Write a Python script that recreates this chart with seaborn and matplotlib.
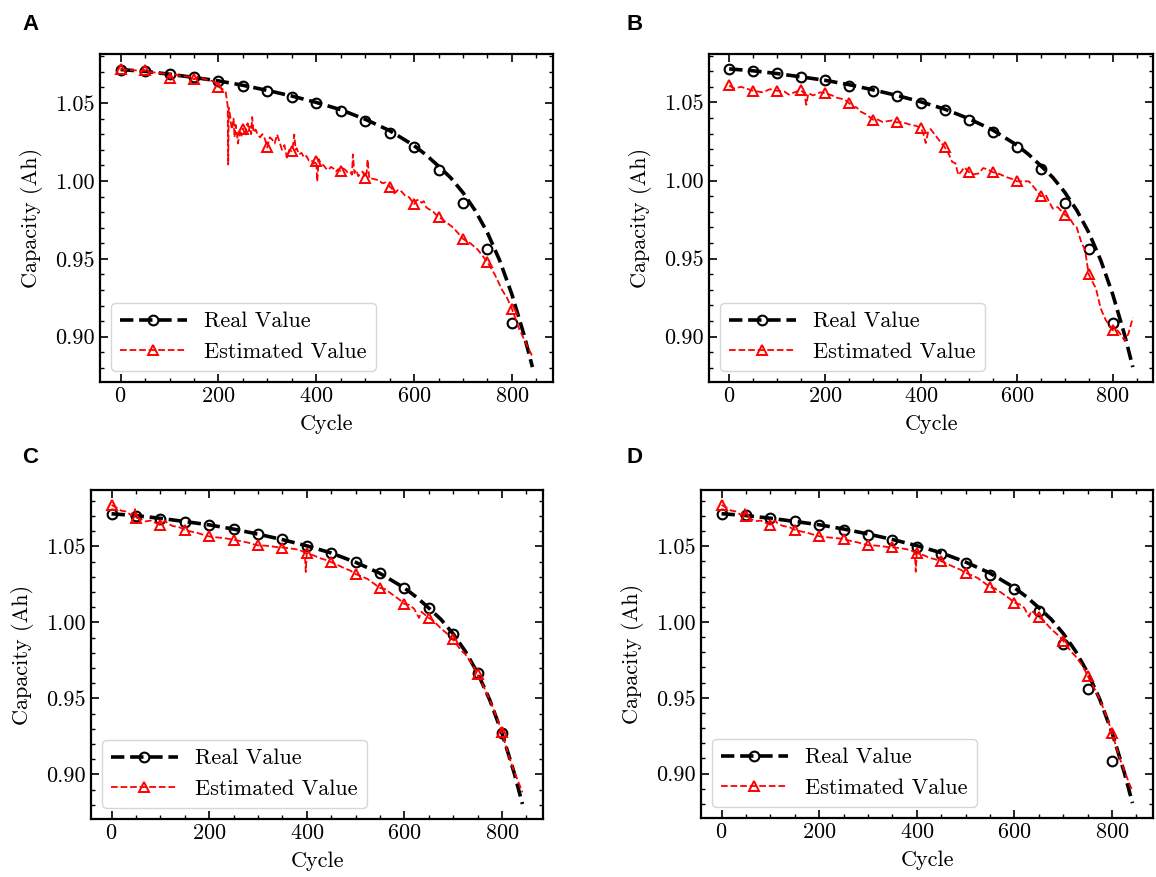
# capacity_estimation.py
# Real vs estimated battery capacity over cycles, four panels (A-D)

import numpy as np
import pandas as pd
import seaborn as sns
import matplotlib.pyplot as plt
from matplotlib.lines import Line2D
from matplotlib.ticker import AutoMinorLocator

# -----------------------------
# Data
# -----------------------------
# smooth real-capacity curve, same in every panel
real_cycle = [0, 50, 100, 150, 200, 250, 300, 350, 400, 450, 500, 550, 600, 625,
              650, 675, 700, 725, 750, 775, 800, 825, 842]
real_cap = [1.0715, 1.0703, 1.0685, 1.0664, 1.0642, 1.0614, 1.0581, 1.0545, 1.0504,
            1.0457, 1.0396, 1.0323, 1.0227, 1.0166, 1.0095, 1.0020, 0.9925, 0.9810,
            0.9668, 0.9490, 0.9272, 0.9010, 0.8805]

# sampled real values (circle markers)
mark_cycle = [0, 50, 100, 150, 200, 250, 300, 350, 400, 450, 500, 550, 600, 650, 700, 750, 800]
mark_real_abd = [1.0712, 1.0704, 1.0687, 1.0665, 1.0643, 1.0607, 1.0576, 1.0540, 1.0498,
                 1.0449, 1.0387, 1.0309, 1.0217, 1.0073, 0.9858, 0.9560, 0.9086]
mark_real_c = [1.0713, 1.0699, 1.0683, 1.0664, 1.0642, 1.0615, 1.0582, 1.0547, 1.0506,
               1.0460, 1.0397, 1.0325, 1.0227, 1.0095, 0.9925, 0.9668, 0.9270]

# estimated capacity, panel A
est_a_cycle = [0, 10, 25, 40, 50, 60, 75, 90, 100, 110, 125, 140, 150, 160, 175, 190,
               200, 208, 215, 219, 220, 221, 224, 226, 228, 231, 233, 235, 238, 240,
               244, 247, 250, 253, 255, 258, 260, 262, 264, 267, 269, 272, 276, 280,
               285, 290, 295, 300, 305, 310, 315, 320, 325, 330, 335, 340, 345, 350,
               353, 355, 358, 360, 365, 370, 375, 380, 385, 390, 395, 400, 402, 405,
               410, 415, 420, 425, 430, 435, 440, 445, 450, 455, 460, 465, 470, 473,
               475, 478, 482, 486, 490, 495, 500, 503, 505, 508, 510, 515, 520, 528,
               535, 542, 550, 555, 560, 568, 575, 582, 590, 600, 605, 610, 615, 620,
               625, 630, 640, 650, 658, 665, 672, 680, 690, 700, 715, 730, 740, 750,
               765, 780, 790, 800, 815, 830, 841]
est_a_cap = [1.0719, 1.0715, 1.0712, 1.0705, 1.0709, 1.0698, 1.0695, 1.0688, 1.0660,
             1.0685, 1.0672, 1.0670, 1.0652, 1.0668, 1.0650, 1.0640, 1.0606, 1.0590,
             1.0570, 1.0480, 1.0106, 1.0470, 1.0420, 1.0360, 1.0330, 1.0400, 1.0280,
             1.0360, 1.0300, 1.0240, 1.0330, 1.0290, 1.0336, 1.0310, 1.0290, 1.0360,
             1.0370, 1.0320, 1.0350, 1.0300, 1.0410, 1.0310, 1.0330, 1.0300, 1.0280,
             1.0300, 1.0270, 1.0215, 1.0280, 1.0265, 1.0240, 1.0298, 1.0250, 1.0200,
             1.0230, 1.0150, 1.0200, 1.0190, 1.0240, 1.0298, 1.0200, 1.0210, 1.0170,
             1.0180, 1.0150, 1.0160, 1.0130, 1.0135, 1.0110, 1.0128, 0.9996, 1.0140,
             1.0110, 1.0100, 1.0080, 1.0070, 1.0090, 1.0080, 1.0060, 1.0075, 1.0064,
             1.0080, 1.0070, 1.0050, 1.0055, 1.0040, 1.0170, 1.0050, 1.0070, 1.0030,
             1.0045, 1.0060, 1.0021, 1.0050, 1.0138, 1.0030, 1.0010, 1.0015, 1.0010,
             1.0005, 0.9985, 0.9990, 0.9964, 0.9950, 0.9920, 0.9945, 0.9930, 0.9905,
             0.9895, 0.9851, 0.9875, 0.9880, 0.9860, 0.9870, 0.9830, 0.9820, 0.9800,
             0.9766, 0.9755, 0.9735, 0.9720, 0.9700, 0.9665, 0.9628, 0.9600, 0.9560,
             0.9520, 0.9479, 0.9400, 0.9300, 0.9250, 0.9180, 0.9050, 0.8950, 0.8880]

# estimated capacity, panel B
est_b_cycle = [0, 10, 25, 40, 50, 70, 85, 100, 115, 125, 140, 150, 156, 161, 165, 175,
               190, 200, 215, 225, 240, 250, 260, 265, 275, 285, 300, 310, 320, 330,
               340, 350, 360, 375, 390, 400, 405, 410, 415, 420, 430, 440, 450, 458,
               465, 472, 478, 485, 490, 500, 510, 520, 530, 540, 550, 565, 580, 590,
               600, 612, 625, 635, 645, 650, 660, 668, 675, 685, 700, 710, 718, 725,
               735, 742, 750, 758, 765, 775, 785, 795, 800, 810, 818, 825, 833, 842]
est_b_cap = [1.0609, 1.0590, 1.0600, 1.0585, 1.0575, 1.0565, 1.0585, 1.0575, 1.0570,
             1.0550, 1.0570, 1.0577, 1.0560, 1.0485, 1.0560, 1.0545, 1.0565, 1.0560,
             1.0545, 1.0530, 1.0520, 1.0496, 1.0470, 1.0470, 1.0440, 1.0425, 1.0390,
             1.0390, 1.0375, 1.0380, 1.0385, 1.0372, 1.0375, 1.0360, 1.0350, 1.0336,
             1.0300, 1.0240, 1.0310, 1.0330, 1.0290, 1.0250, 1.0212, 1.0170, 1.0120,
             1.0110, 1.0035, 1.0060, 1.0085, 1.0055, 1.0040, 1.0045, 1.0080, 1.0070,
             1.0053, 1.0040, 1.0020, 1.0010, 0.9995, 0.9995, 0.9995, 0.9960, 0.9920,
             0.9899, 0.9910, 0.9860, 0.9820, 0.9830, 0.9782, 0.9760, 0.9720, 0.9700,
             0.9600, 0.9560, 0.9399, 0.9350, 0.9310, 0.9180, 0.9110, 0.9060, 0.9041,
             0.9040, 0.9010, 0.8973, 0.9020, 0.9122]

# estimated capacity, panels C and D
est_cd_cycle = [0, 10, 20, 30, 40, 48, 50, 60, 70, 80, 90, 100, 110, 115, 125, 140, 150,
                160, 175, 185, 200, 215, 230, 240, 250, 265, 280, 290, 300, 315, 330,
                340, 350, 365, 380, 390, 396, 398, 400, 415, 425, 440, 450, 465, 475,
                490, 500, 515, 525, 540, 550, 560, 575, 590, 600, 610, 620, 630, 635,
                650, 660, 675, 690, 700, 715, 725, 740, 750, 765, 775, 790, 800, 815,
                825, 842]
est_c_cap = [1.0773, 1.0755, 1.0735, 1.0730, 1.0705, 1.0745, 1.0690, 1.0680, 1.0665,
             1.0670, 1.0655, 1.0642, 1.0670, 1.0650, 1.0635, 1.0625, 1.0609, 1.0600,
             1.0590, 1.0580, 1.0566, 1.0560, 1.0555, 1.0550, 1.0544, 1.0535, 1.0525,
             1.0515, 1.0507, 1.0505, 1.0500, 1.0495, 1.0493, 1.0488, 1.0480, 1.0470,
             1.0460, 1.0332, 1.0456, 1.0440, 1.0425, 1.0410, 1.0397, 1.0375, 1.0360,
             1.0340, 1.0318, 1.0300, 1.0285, 1.0250, 1.0227, 1.0220, 1.0185, 1.0150,
             1.0122, 1.0115, 1.0090, 1.0030, 1.0070, 1.0030, 1.0010, 0.9960, 0.9920,
             0.9888, 0.9820, 0.9790, 0.9720, 0.9658, 0.9560, 0.9490, 0.9370, 0.9276,
             0.9110, 0.9020, 0.8882]
est_d_cap = [1.0773, 1.0755, 1.0735, 1.0730, 1.0705, 1.0745, 1.0700, 1.0680, 1.0665,
             1.0670, 1.0655, 1.0642, 1.0670, 1.0650, 1.0635, 1.0625, 1.0609, 1.0600,
             1.0590, 1.0580, 1.0566, 1.0560, 1.0555, 1.0552, 1.0548, 1.0535, 1.0525,
             1.0515, 1.0507, 1.0505, 1.0500, 1.0495, 1.0493, 1.0488, 1.0480, 1.0470,
             1.0460, 1.0332, 1.0456, 1.0440, 1.0425, 1.0412, 1.0402, 1.0380, 1.0365,
             1.0345, 1.0325, 1.0305, 1.0290, 1.0255, 1.0231, 1.0222, 1.0190, 1.0155,
             1.0128, 1.0118, 1.0095, 1.0035, 1.0075, 1.0033, 1.0010, 0.9955, 0.9912,
             0.9877, 0.9810, 0.9775, 0.9710, 0.9647, 0.9555, 0.9490, 0.9370, 0.9269,
             0.9110, 0.9020, 0.8882]

panels = [
    ("A", est_a_cycle, est_a_cap, mark_real_abd, [100, 54, 553, 382]),
    ("B", est_b_cycle, est_b_cap, mark_real_abd, [709, 54, 1153, 382]),
    ("C", est_cd_cycle, est_c_cap, mark_real_c, [91, 490, 543, 819]),
    ("D", est_cd_cycle, est_d_cap, mark_real_abd, [701, 490, 1153, 818]),
]
letter_pos = {"A": (22, 25), "B": (627, 25), "C": (22, 457), "D": (627, 457)}

# -----------------------------
# Style
# -----------------------------
sns.set_style("ticks", {"axes.edgecolor": "black", "text.color": "black",
                        "axes.labelcolor": "black", "xtick.color": "black",
                        "ytick.color": "black"})
plt.rcParams["font.family"] = "serif"
plt.rcParams["font.serif"] = ["cmr10"]
plt.rcParams["mathtext.fontset"] = "cm"
plt.rcParams["axes.formatter.use_mathtext"] = True
plt.rcParams["font.size"] = 16

W, H = 1156, 877
fig = plt.figure(figsize=(W / 100, H / 100), dpi=100)

for name, ecyc, ecap, mreal, (x0, y0, x1, y1) in panels:
    ax = fig.add_axes([x0 / W, 1 - y1 / H, (x1 - x0) / W, (y1 - y0) / H])

    real_df = pd.DataFrame({"Cycle": real_cycle, "Capacity": real_cap})
    mark_df = pd.DataFrame({"Cycle": mark_cycle, "Capacity": mreal})
    est_df = pd.DataFrame({"Cycle": ecyc, "Capacity": ecap})
    every = [i for i, c in enumerate(ecyc) if c % 50 == 0 and c <= 800]

    sns.lineplot(data=real_df, x="Cycle", y="Capacity", ax=ax, color="black",
                 linestyle="--", linewidth=2.6, errorbar=None, zorder=2)
    sns.lineplot(data=mark_df, x="Cycle", y="Capacity", ax=ax, color="black",
                 linestyle="none", marker="o", markersize=7, mfc="none",
                 mec="black", mew=1.5, errorbar=None, zorder=3)
    sns.lineplot(data=est_df, x="Cycle", y="Capacity", ax=ax, color="red",
                 linestyle="--", linewidth=1.3, marker="^", markersize=7,
                 mfc="none", mec="red", mew=1.4, markevery=every,
                 errorbar=None, zorder=4)

    ax.set_xlabel("Cycle", fontsize=16, labelpad=6)
    ax.set_ylabel("Capacity (Ah)", fontsize=16, labelpad=9)
    ax.set_xticks([0, 200, 400, 600, 800])
    ax.set_yticks([0.90, 0.95, 1.00, 1.05])
    ax.set_yticklabels(["0.90", "0.95", "1.00", "1.05"])
    ax.xaxis.set_minor_locator(AutoMinorLocator())
    ax.yaxis.set_minor_locator(AutoMinorLocator())
    ax.tick_params(which="both", direction="in", top=True, right=True, labelsize=16,
                   color="black")
    ax.tick_params(which="major", length=6, width=1.2)
    ax.tick_params(which="minor", length=3, width=1.0)
    for sp in ax.spines.values():
        sp.set_linewidth(1.6)
        sp.set_color("black")

    handles = [
        Line2D([], [], color="black", linestyle="--", linewidth=2.6, marker="o",
               markersize=7, mfc="none", mec="black", mew=1.5),
        Line2D([], [], color="red", linestyle="--", linewidth=1.3, marker="^",
               markersize=7, mfc="none", mec="red", mew=1.4),
    ]
    ax.legend(handles, ["Real Value", "Estimated Value"], loc="lower left",
              fontsize=16, handlelength=3.0, frameon=True, fancybox=True)

    lx, ly = letter_pos[name]
    fig.text(lx / W, 1 - ly / H, name, fontsize=16, fontweight="bold",
             family="Liberation Sans", ha="left", va="center")

plt.savefig("out.png", dpi=100)
plt.close()
